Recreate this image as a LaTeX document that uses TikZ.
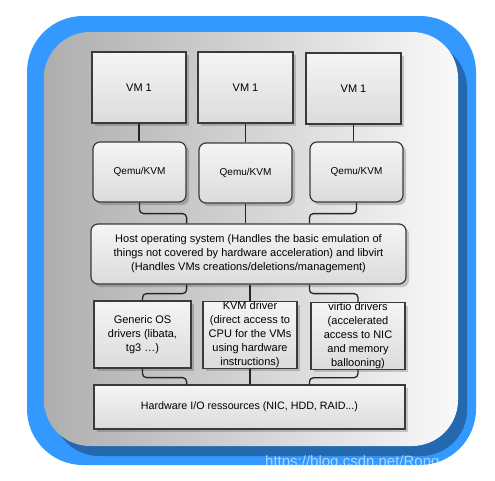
\documentclass[tikz,border=0pt]{standalone}
\usepackage{fontspec}
\setmainfont{Liberation Sans}
\usetikzlibrary{shadows}
\definecolor{frameBlue}{HTML}{3399FF}
\definecolor{frameDeep}{HTML}{2468AE}
\definecolor{panelLeft}{HTML}{AEAEAE}
\definecolor{panelRight}{HTML}{F9F9F9}
\definecolor{boxLine}{HTML}{3A3A3A}
\tikzset{
  box/.style={draw=boxLine, line width=1.2pt, top color=gray!8, bottom color=gray!28,
    drop shadow={shadow xshift=3pt, shadow yshift=-3pt, fill=black, opacity=0.18},
    inner sep=0pt, align=center, font=\fontsize{11}{14}\selectfont},
  roundbox/.style={box, rounded corners=7pt},
  wire/.style={line width=1.3pt, black!85, rounded corners=4pt}
}

\begin{document}
\begin{tikzpicture}[x=1pt, y=-1pt]
    \useasboundingbox (0,0) rectangle (495,480);
    % frame
    \fill[frameBlue] (27,16) [rounded corners=56pt] rectangle (476,465);
    \fill[frameDeep] (53,42) [rounded corners=46pt] rectangle (467,456);
    \shade[left color=panelLeft, right color=panelRight, rounded corners=46pt] (44,32) rectangle (458,446);

    % guests
    \node[box, minimum width=94pt, minimum height=71pt] (vmA) at (139,87.5) {VM 1};
    \node[box, minimum width=95pt, minimum height=71pt] (vmB) at (245.5,87.5) {VM 1};
    \node[box, minimum width=95pt, minimum height=71pt] (vmC) at (353.5,88.5) {VM 1};
    \node[roundbox, minimum width=93pt, minimum height=60pt, font=\fontsize{10}{12}\selectfont] (qemuA) at (139.5,172) {Qemu/KVM};
    \node[roundbox, minimum width=93pt, minimum height=60pt, font=\fontsize{10}{12}\selectfont] (qemuB) at (245.5,173) {Qemu/KVM};
    \node[roundbox, minimum width=93pt, minimum height=60pt, font=\fontsize{10}{12}\selectfont] (qemuC) at (356.5,172) {Qemu/KVM};

    % host
    \node[roundbox, minimum width=315pt, minimum height=60pt] (host) at (248.5,254)
      {Host operating system (Handles the basic emulation of\\things not covered by hardware acceleration) and libvirt\\(Handles VMs creations/deletions/management)};

    % drivers
    \node[box, minimum width=97pt, minimum height=67pt] (drvA) at (142.5,334.5) {Generic OS\\drivers (libata,\\tg3 \dots)};
    \node[box, minimum width=94pt, minimum height=66pt] (drvB) at (250,335) {KVM driver\\(direct access to\\CPU for the VMs\\using hardware\\instructions)};
    \node[box, minimum width=94pt, minimum height=66pt] (drvC) at (358,336) {virtio drivers\\(accelerated\\access to NIC\\and memory\\ballooning)};
    \node[box, minimum width=311pt, minimum height=44pt, font=\fontsize{10.7}{13}\selectfont] (hw) at (249.5,407) {Hardware I/O ressources (NIC, HDD, RAID...)};

    % links
    \draw[wire] (vmA.south) -- (vmA.south |- qemuA.north);
    \draw[wire] (vmB.south) -- (vmB.south |- qemuB.north);
    \draw[wire] (vmC.south) -- (vmC.south |- qemuC.north);
    \draw[wire] (qemuA.south) -- ++(0,11) -| (qemuA.east |- host.north);
    \draw[wire] (qemuB.south) -- (qemuB.south |- host.north);
    \draw[wire] (qemuC.south) -- ++(0,11) -| (qemuC.west |- host.north);
    \draw[wire] (qemuA.east |- host.south) -- ++(0,9) -| (drvA.north);
    \draw[wire] (drvB.north |- host.south) -- (drvB.north);
    \draw[wire] (qemuC.west |- host.south) -- ++(0,9) -| (drvC.north);
    \draw[wire] (drvA.south) -- ++(0,9) -| (qemuA.east |- hw.north);
    \draw[wire] (drvB.south) -- (drvB.south |- hw.north);
    \draw[wire] (drvC.south) -- ++(0,8) -| (qemuC.west |- hw.north);

    % watermark
    \node[anchor=base west, inner sep=0pt, text=white, opacity=0.6, font=\fontsize{15}{18}\selectfont] (mark) at (265,466) {https://blog.csdn.net/Rong};
  \end{tikzpicture}
\end{document}
